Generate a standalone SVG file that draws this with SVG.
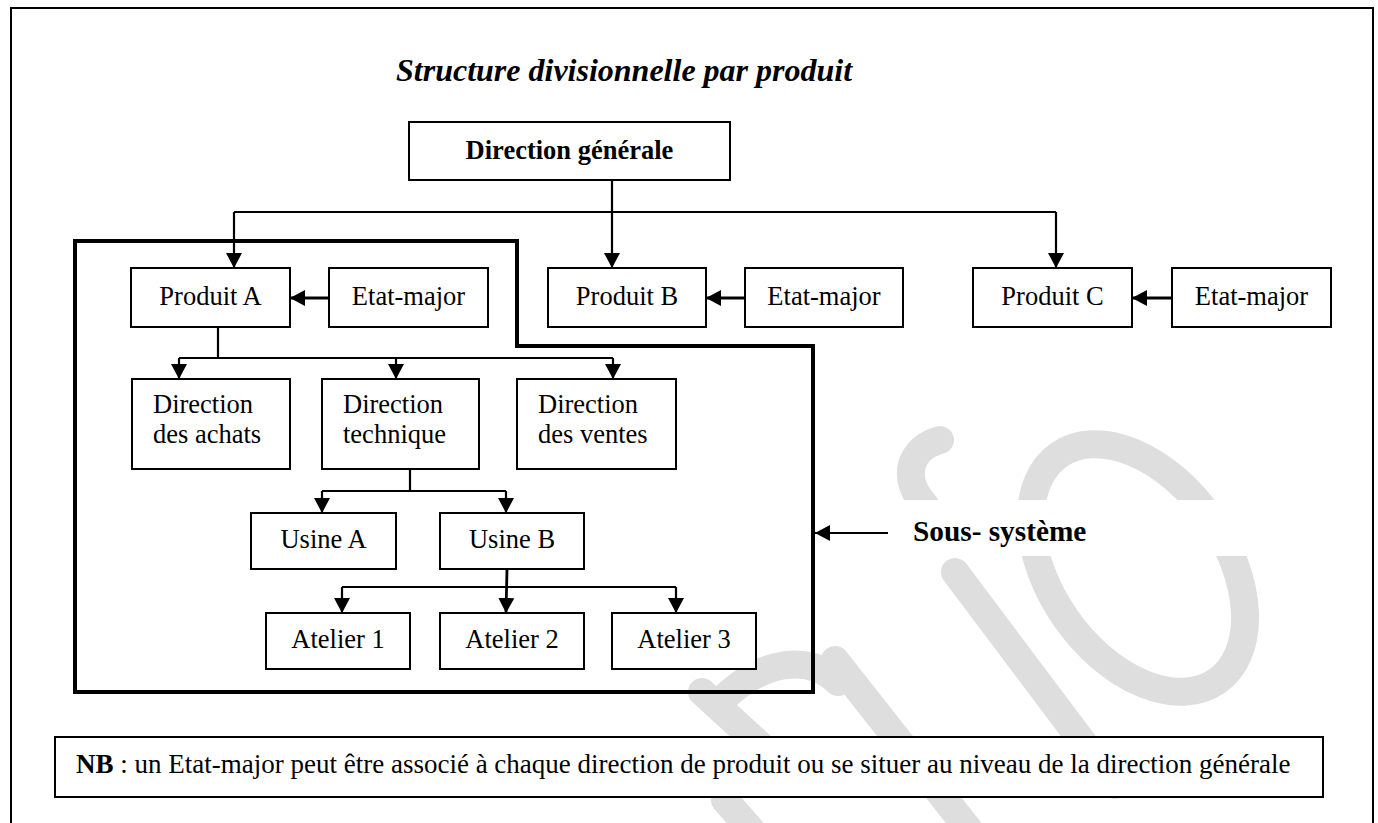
<svg xmlns="http://www.w3.org/2000/svg" width="1378" height="823" viewBox="0 0 1378 823">
<style>
.box{fill:#fff;stroke:#000;stroke-width:2}
.t{font-family:"Liberation Serif","Times New Roman",serif;font-size:26.5px;fill:#000}
.c{text-anchor:middle}
.b{font-weight:bold}
.conn{stroke:#000;stroke-width:2.2;fill:none}
.arr{marker-end:url(#ah)}
.wm{stroke:#dedede;stroke-width:28;fill:none;stroke-linecap:round}
</style>
<defs>
<marker id="ah" markerUnits="userSpaceOnUse" markerWidth="17" markerHeight="17" refX="15" refY="8" orient="auto">
<path d="M0,0 L15,8 L0,16 z" fill="#000"/>
</marker>
</defs>
<rect x="0" y="0" width="1378" height="823" fill="#fff"/>
<rect id="frame" x="11" y="8" width="1362" height="840" fill="none" stroke="#000" stroke-width="2"/>
<g id="watermark">
<path class="wm" d="M940,440 C910,448 900,478 925,505"/>
<ellipse class="wm" cx="1138" cy="568" rx="88" ry="138" transform="rotate(-35 1138 568)"/>
<path class="wm" d="M955,572 L1115,785"/>
<path class="wm" d="M835,660 L985,850"/>
<path class="wm" d="M722,700 C760,662 808,652 838,682"/>
<path class="wm" d="M702,692 L760,745"/>
<path class="wm" d="M725,800 L760,840"/>
<rect x="830" y="500" width="440" height="56" fill="#fff"/>
</g>
<g id="title"><text class="t b" x="396" y="81" style="font-size:32px;font-style:italic">Structure divisionnelle par produit</text></g>
<g id="subsystem"><path d="M75,241 H517 V346 H813 V692 H75 Z" fill="none" stroke="#000" stroke-width="4"/></g>
<g id="connectors">
<path class="conn arr" d="M612,180 V268"/>
<path class="conn" d="M234,212 H1056"/>
<path class="conn arr" d="M234,212 V268"/>
<path class="conn arr" d="M1056,212 V268"/>
<path class="conn arr" d="M329,298 H290" style="stroke-width:2.8"/>
<path class="conn arr" d="M745,298 H706" style="stroke-width:2.8"/>
<path class="conn arr" d="M1172,298 H1132" style="stroke-width:2.8"/>
<path class="conn" d="M218,327 V358 M179,358 H613"/>
<path class="conn arr" d="M179,358 V379"/>
<path class="conn arr" d="M396,358 V379"/>
<path class="conn arr" d="M613,358 V379"/>
<path class="conn" d="M410,469 V491 M322,491 H506"/>
<path class="conn arr" d="M322,491 V513"/>
<path class="conn arr" d="M506,491 V513"/>
<path class="conn" d="M342,587 H676"/>
<path class="conn arr" d="M507,569 L506,613" style="stroke-width:2.8"/>
<path class="conn arr" d="M342,587 V613"/>
<path class="conn arr" d="M676,587 V613"/>
<path class="conn arr" d="M888,533 H815"/>
</g>
<g id="dg"><rect class="box" x="409" y="122" width="321" height="58"/><text class="t b c" x="569.5" y="159">Direction générale</text></g>
<g id="produitA"><rect class="box" x="131" y="268" width="159" height="59"/><text class="t c" x="210.5" y="305">Produit A</text></g>
<g id="etatA"><rect class="box" x="329" y="268" width="159" height="59"/><text class="t c" x="408.5" y="305">Etat-major</text></g>
<g id="produitB"><rect class="box" x="548" y="268" width="158" height="59"/><text class="t c" x="627" y="305">Produit B</text></g>
<g id="etatB"><rect class="box" x="745" y="268" width="158" height="59"/><text class="t c" x="824" y="305">Etat-major</text></g>
<g id="produitC"><rect class="box" x="973" y="268" width="159" height="59"/><text class="t c" x="1052.5" y="305">Produit C</text></g>
<g id="etatC"><rect class="box" x="1172" y="268" width="159" height="59"/><text class="t c" x="1251.5" y="305">Etat-major</text></g>
<g id="dirAchats"><rect class="box" x="132" y="379" width="158" height="90"/><text class="t" x="153" y="413">Direction</text><text class="t" x="153" y="443">des achats</text></g>
<g id="dirTech"><rect class="box" x="322" y="379" width="157" height="90"/><text class="t" x="343" y="413">Direction</text><text class="t" x="343" y="443">technique</text></g>
<g id="dirVentes"><rect class="box" x="517" y="379" width="159" height="90"/><text class="t" x="538" y="413">Direction</text><text class="t" x="538" y="443">des ventes</text></g>
<g id="usineA"><rect class="box" x="251" y="513" width="145" height="56"/><text class="t c" x="323.5" y="548">Usine A</text></g>
<g id="usineB"><rect class="box" x="440" y="513" width="144" height="56"/><text class="t c" x="512" y="548">Usine B</text></g>
<g id="atelier1"><rect class="box" x="266" y="613" width="144" height="56"/><text class="t c" x="338" y="648">Atelier 1</text></g>
<g id="atelier2"><rect class="box" x="440" y="613" width="144" height="56"/><text class="t c" x="512" y="648">Atelier 2</text></g>
<g id="atelier3"><rect class="box" x="612" y="613" width="144" height="56"/><text class="t c" x="684" y="648">Atelier 3</text></g>
<g id="sousSysteme"><text class="t b" x="913" y="541" style="font-size:29.3px">Sous- système</text></g>
<g id="nb"><rect class="box" x="55" y="737" width="1268" height="60"/><text class="t" x="76" y="773" style="font-size:27px"><tspan class="b">NB</tspan> : un Etat-major peut être associé à chaque direction de produit ou se situer au niveau de la direction générale</text></g>
</svg>
